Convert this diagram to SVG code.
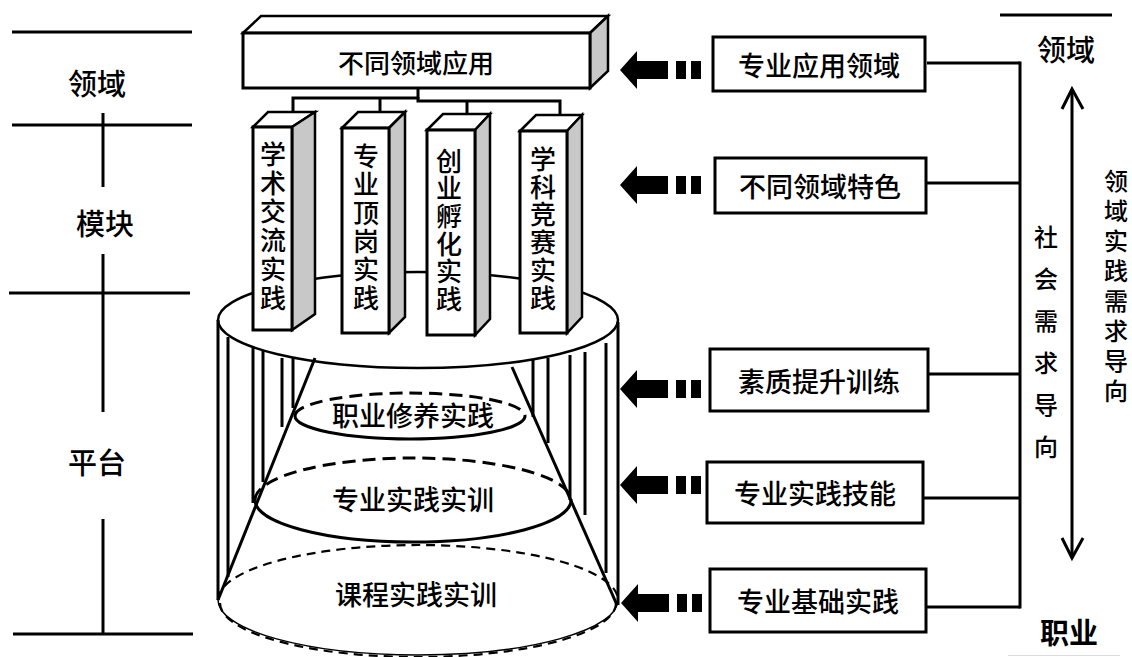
<svg xmlns="http://www.w3.org/2000/svg" xmlns:xlink="http://www.w3.org/1999/xlink" width="1132" height="657" viewBox="0 0 1132 657">
<style>
.ln{stroke:#000;stroke-width:3;fill:none}
.st{stroke:#000;stroke-width:3;fill:none}
.box{fill:#fff;stroke:#000;stroke-width:3}
.side{fill:#c8c8c8;stroke:#000;stroke-width:2.5;stroke-linejoin:miter}
.top{fill:#fff;stroke:#000;stroke-width:2.5;stroke-linejoin:miter}
.t{font-family:"Noto Sans CJK SC","Noto Sans",sans-serif;font-weight:500;fill:#000;text-anchor:middle;dominant-baseline:central}
.b{font-weight:700}
.v{font-family:"Noto Sans CJK SC","Noto Sans",sans-serif;font-weight:500;fill:#000;writing-mode:vertical-rl;text-anchor:start;dominant-baseline:central}
.dash{stroke:#000;stroke-width:3;fill:none;stroke-dasharray:13 7}
.dash2{stroke:#000;stroke-width:2.2;fill:none;stroke-dasharray:9 6}
</style>
<defs>
<g id="arr">
<polygon points="0,0 17,-19 17,-9 48,-9 48,9 17,9 17,19" fill="#000"/>
<rect x="56" y="-9" width="10" height="18" fill="#000"/>
<rect x="71" y="-9" width="10" height="18" fill="#000"/>
</g>
</defs>
<rect width="1132" height="657" fill="#fff"/>

<g id="left-scale">
<line class="ln" x1="12" y1="32" x2="192" y2="32"/>
<line class="ln" x1="12" y1="125" x2="192" y2="125"/>
<line class="ln" x1="9" y1="293" x2="190" y2="293"/>
<line class="ln" x1="13" y1="634" x2="193" y2="634"/>
<line class="ln" x1="103" y1="113" x2="103" y2="187"/>
<line class="ln" x1="103" y1="254" x2="103" y2="412"/>
<line class="ln" x1="103" y1="519" x2="103" y2="634"/>
<text class="t" x="97" y="82" font-size="29">领域</text>
<text class="t" x="105" y="222" font-size="29">模块</text>
<text class="t" x="97" y="461" font-size="29">平台</text>
</g>

<g id="platform">
<ellipse cx="418" cy="320" rx="200" ry="48" fill="#fff" stroke="#000" stroke-width="2.5"/>
<line class="ln" x1="218" y1="320" x2="218" y2="600"/>
<line class="ln" x1="618" y1="322" x2="618" y2="605"/>
<g id="stripes">
<line class="st" x1="228" y1="337" x2="228" y2="577"/>
<line class="st" x1="253" y1="348" x2="253" y2="503"/>
<line class="st" x1="263" y1="350" x2="263" y2="482"/>
<line class="st" x1="282" y1="358" x2="282" y2="427"/>
<line class="st" x1="293" y1="358" x2="293" y2="408"/>
<line class="st" x1="533" y1="360" x2="533" y2="417"/>
<line class="st" x1="548" y1="358" x2="548" y2="443"/>
<line class="st" x1="570" y1="355" x2="570" y2="500"/>
<line class="st" x1="585" y1="352" x2="585" y2="515"/>
<line class="st" x1="606" y1="343" x2="606" y2="573"/>
</g>
<line class="ln" x1="315" y1="358" x2="218" y2="600"/>
<line class="ln" x1="512" y1="367" x2="617" y2="605"/>
<path class="dash2" d="M218,600 A200,55 0 0 1 618,600"/>
<path d="M218,600 A200,55 0 0 0 618,600" stroke="#000" stroke-width="1.5" fill="none"/>
<path class="dash2" d="M220,603 A198,54 0 0 0 616,603"/>
</g>

<g id="level3">
<path class="dash" d="M255,500 A158,42 0 0 1 571,500"/>
<path class="ln" d="M255,500 A158,42 0 0 0 571,500"/>
<text class="t" x="413" y="498" font-size="27">专业实践实训</text>
</g>
<g id="level2">
<path class="dash" d="M295,416 A115,23 0 0 1 525,416"/>
<path class="ln" d="M295,416 A115,23 0 0 0 525,416"/>
<text class="t" x="413" y="414" font-size="27">职业修养实践</text>
</g>
<g id="level1">
<text class="t" x="416" y="593" font-size="27">课程实践实训</text>
</g>

<g id="top-box">
<polygon class="top" points="243,33 261,16 608,16 590,33"/>
<polygon class="side" points="590,33 608,16 608,71 590,88"/>
<rect class="box" x="243" y="33" width="347" height="55"/>
<text class="t" x="416" y="61" font-size="26">不同领域应用</text>
</g>

<g id="connectors">
<polyline class="ln" points="418,88 418,99"/>
<polyline class="ln" points="293,113 293,98 418,98"/>
<line class="ln" x1="380" y1="98" x2="380" y2="113"/>
<polyline class="ln" points="418,97 418,101 560,101 560,116"/>
<line class="ln" x1="467" y1="101" x2="467" y2="115"/>
<line class="ln" x1="927" y1="63" x2="1020" y2="63"/>
<line class="ln" x1="927" y1="183" x2="1020" y2="183"/>
<line class="ln" x1="928" y1="374" x2="1020" y2="374"/>
<line class="ln" x1="923" y1="498" x2="1020" y2="498"/>
<line class="ln" x1="926" y1="607" x2="1020" y2="607"/>
<line class="ln" x1="1020" y1="61.5" x2="1020" y2="608.5"/>
<use xlink:href="#arr" x="620" y="70"/>
<use xlink:href="#arr" x="620" y="185"/>
<use xlink:href="#arr" x="620" y="389"/>
<use xlink:href="#arr" x="620" y="485"/>
<use xlink:href="#arr" x="621" y="603"/>
</g>

<g id="pillar1">
<polygon class="top" points="253,127 268,112 315,112 292,127"/>
<polygon class="side" points="292,127 315,112 315,314 292,330"/>
<rect class="box" x="253" y="127" width="39" height="203" stroke-width="2.5"/>
<text class="v" x="273" y="141" font-size="26" letter-spacing="2.8">学术交流实践</text>
</g>
<g id="pillar2">
<polygon class="top" points="342,128 358,112 405,112 389,128"/>
<polygon class="side" points="389,128 405,112 405,317 389,333"/>
<rect class="box" x="342" y="128" width="47" height="205" stroke-width="2.5"/>
<text class="v" x="366" y="143" font-size="26" letter-spacing="2.4">专业顶岗实践</text>
</g>
<g id="pillar3">
<polygon class="top" points="427,130 443,114 490,114 475,130"/>
<polygon class="side" points="475,130 490,114 490,319 475,335"/>
<rect class="box" x="427" y="130" width="48" height="205" stroke-width="2.5"/>
<text class="v" x="449" y="148" font-size="26" letter-spacing="1.6">创业孵化实践</text>
</g>
<g id="pillar4">
<polygon class="top" points="520,131 536,115 582,115 567,131"/>
<polygon class="side" points="567,131 582,115 582,317 567,333"/>
<rect class="box" x="520" y="131" width="47" height="202" stroke-width="2.5"/>
<text class="v" x="543" y="146" font-size="26" letter-spacing="1.8">学科竞赛实践</text>
</g>

<g id="box1"><rect class="box" x="713" y="37" width="212" height="54"/><text class="t" x="819" y="64" font-size="27">专业应用领域</text></g>
<g id="box2"><rect class="box" x="715" y="158" width="211" height="55"/><text class="t" x="820" y="185" font-size="27">不同领域特色</text></g>
<g id="box3"><rect class="box" x="710" y="349" width="218" height="62"/><text class="t" x="819" y="380" font-size="27">素质提升训练</text></g>
<g id="box4"><rect class="box" x="707" y="462" width="216" height="61"/><text class="t" x="815" y="492" font-size="27">专业实践技能</text></g>
<g id="box5"><rect class="box" x="710" y="569" width="216" height="63"/><text class="t" x="818" y="600" font-size="27">专业基础实践</text></g>

<g id="right-axis">
<line class="ln" x1="1000" y1="15" x2="1112" y2="15"/>
<text class="t" x="1066" y="48" font-size="29">领域</text>
<line class="ln" x1="1072" y1="89" x2="1072" y2="558"/>
<polyline class="ln" points="1062,109 1072,89 1083,109"/>
<polyline class="ln" points="1062,538 1072,558 1083,538"/>
<text class="v" x="1046" y="225" font-size="24" letter-spacing="18">社会需求导向</text>
<text class="v" x="1116" y="169" font-size="24" letter-spacing="6">领域实践需求导向</text>
<text class="t b" x="1069" y="631" font-size="29">职业</text>
<line x1="1008" y1="655.5" x2="1120" y2="655.5" stroke="#ddd" stroke-width="1"/>
</g>
</svg>
